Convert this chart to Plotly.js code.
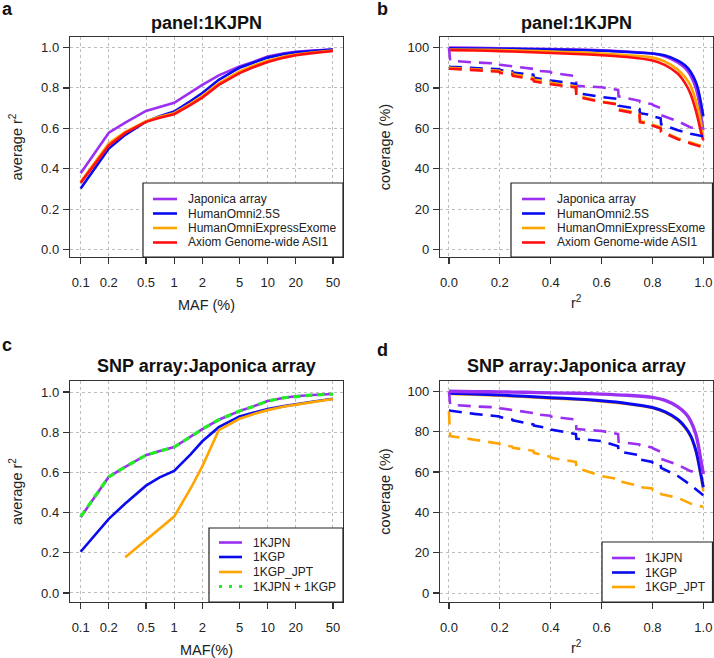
<!DOCTYPE html>
<html><head><meta charset="utf-8">
<script src="https://cdn.plot.ly/plotly-3.0.1.min.js"></script>
<style>html,body{margin:0;padding:0;background:#fff}#chart{width:714px;height:658px}</style>
</head><body><div id="chart"></div>
<script>
// ---------- DATA ----------
const mafTicks = [0.1, 0.2, 0.5, 1, 2, 5, 10, 20, 50];
const mafTickText = ['0.1', '0.2', '0.5', '1', '2', '5', '10', '20', '50'];
const maf = [0.1, 0.2, 0.3, 0.5, 0.7, 1, 1.5, 2, 3, 5, 7, 10, 15, 20, 30, 50];

const arrayNames = ['Japonica array', 'HumanOmni2.5S', 'HumanOmniExpressExome', 'Axiom Genome-wide ASI1'];
const japonicaR2 = [0.377, 0.578, 0.628, 0.686, 0.706, 0.726, 0.778, 0.815, 0.862, 0.906, 0.928, 0.955, 0.972, 0.979, 0.985, 0.99];
const omni25R2   = [0.302, 0.500, 0.568, 0.633, 0.660, 0.683, 0.735, 0.775, 0.840, 0.900, 0.925, 0.950, 0.968, 0.976, 0.983, 0.99];
const expressR2  = [0.335, 0.525, 0.583, 0.635, 0.657, 0.675, 0.722, 0.760, 0.823, 0.882, 0.910, 0.935, 0.955, 0.965, 0.975, 0.985];
const axiomR2    = [0.330, 0.515, 0.577, 0.632, 0.652, 0.670, 0.716, 0.752, 0.815, 0.873, 0.902, 0.928, 0.950, 0.962, 0.972, 0.983];

const panelNames = ['1KJPN', '1KGP', '1KGP_JPT', '1KJPN + 1KGP'];
const kjpnR2  = [0.377, 0.578, 0.628, 0.686, 0.706, 0.726, 0.778, 0.815, 0.862, 0.906, 0.928, 0.955, 0.972, 0.979, 0.985, 0.99];
const kgpR2   = [0.205, 0.369, 0.445, 0.534, 0.575, 0.608, 0.690, 0.755, 0.825, 0.878, 0.897, 0.915, 0.930, 0.940, 0.952, 0.967];
const jptR2   = [null, null, 0.178, 0.265, 0.324, 0.380, 0.520, 0.630, 0.810, 0.867, 0.890, 0.910, 0.928, 0.938, 0.950, 0.965];
const comboR2 = [0.380, 0.578, 0.628, 0.686, 0.706, 0.726, 0.778, 0.815, 0.862, 0.906, 0.928, 0.955, 0.972, 0.979, 0.985, 0.99];

// coverage vs r2 threshold
const r2Solid = [0, 0.1, 0.2, 0.3, 0.4, 0.5, 0.6, 0.7, 0.8, 0.85, 0.9, 0.93, 0.95, 0.97, 0.98, 0.99, 1.0];
const r2Dash  = [0, 0.005, 0.1, 0.199, 0.201, 0.249, 0.251, 0.332, 0.334, 0.399, 0.401, 0.499, 0.501, 0.6, 0.665, 0.667, 0.749, 0.751, 0.799, 0.801, 0.832, 0.834, 0.9, 0.95, 0.98, 1.0];

const japSolidB     = [100, 99.8, 99.6, 99.4, 99.2, 99, 98.6, 98, 97, 95.5, 92.5, 89.5, 86, 80, 75, 67.5, 59];
const omni25SolidB  = [99.6, 99.5, 99.4, 99.2, 99, 98.8, 98.4, 97.8, 97, 96, 93.5, 91, 88, 83, 79, 73, 66];
const expressSolidB = [99, 98.9, 98.7, 98.4, 98, 97.6, 97, 96.2, 95, 93, 89, 85, 81, 74, 69, 63, 55.7];
const axiomSolidB   = [98.7, 98.5, 98.2, 97.8, 97.3, 96.8, 96.2, 95.3, 93.6, 91.3, 87, 82, 77, 69, 64, 58.5, 54];

const japDashB     = [100, 93.5, 92.6, 92, 91.5, 90.8, 90.4, 89.4, 88.6, 88, 87.6, 85.8, 81, 80.3, 79, 75.8, 73.6, 73, 72, 71.5, 70, 66.5, 63.5, 60.4, 60, 60];
const omni25DashB  = [90.6, 90.5, 89.8, 89.2, 88.8, 88.2, 87.6, 86.5, 85, 84, 83.6, 82, 77.5, 75.5, 74.5, 71.2, 69.5, 67.5, 66.5, 66, 65, 62, 59, 57.3, 56.5, 56];
const expressDashB = [90.2, 90, 89.2, 88.5, 88, 87.4, 86.7, 85, 84, 83, 82.5, 80.8, 76.2, 73.2, 72, 69.5, 67.5, 63.5, 62.4, 61.8, 60.5, 58.8, 55, 53, 51.8, 51];
const axiomDashB   = [89.6, 89.5, 88.8, 88, 87.4, 86.8, 86, 84.2, 83.2, 82.2, 81.8, 80.2, 75.6, 73, 71.8, 69, 67, 63, 62, 61.3, 60, 58.3, 54.6, 52.5, 51.2, 50.5];

const kjpnSolidD = [100, 99.8, 99.7, 99.5, 99.2, 99, 98.6, 98, 97, 95.5, 92.3, 89, 85.3, 79, 73.5, 66, 59];
const kgpSolidD  = [99, 98.6, 98.1, 97.5, 96.8, 96.2, 95.3, 94, 92, 89.8, 86, 82, 78, 71, 65.5, 59, 52.4];
const jptSolidD  = [98.7, 98.3, 97.8, 97.2, 96.5, 95.9, 95, 93.7, 91.7, 89.5, 85.7, 81.6, 77.5, 70.5, 65, 58, 50.5];

const kjpnDashD = [100, 93.4, 92.5, 92, 91.6, 90.8, 90.4, 89.2, 88.6, 87.9, 87.5, 86, 81.3, 80.3, 78.8, 75, 73.6, 73.2, 72.2, 71.8, 70, 66.5, 63.5, 60.4, 60, 60];
const kgpDashD  = [90.5, 90.4, 88.8, 87.5, 87.2, 86, 85.6, 83.6, 83, 81.5, 81, 78.8, 76.5, 75.3, 72.8, 70.2, 68.3, 66.2, 65, 64.5, 63.8, 62, 58, 53.5, 50.5, 48.5];
const jptDashD  = [90, 77.8, 76, 74, 73.5, 72.6, 72, 70.5, 69.5, 67.5, 67, 65, 62, 58, 56.5, 55.5, 53, 52.5, 51.8, 51, 49.5, 49, 47.2, 44.3, 43.2, 42.8];

// ---------- STYLE ----------
const PURPLE = '#9B30F2', BLUE = '#0A0AF0', ORANGE = '#FFA500', RED = '#FF1010', GREEN = '#22EE22';
const FONT = 'Liberation Sans, Arial, Helvetica, sans-serif';
const W = 714, H = 658;
const DASH = '13px,8px';
const LW = 2.6;

function line(x, y, color, xa, ya, dash, width, shape) {
  return {x: x, y: y, type: 'scatter', mode: 'lines', xaxis: xa, yaxis: ya, showlegend: false,
    hoverinfo: 'skip', line: {color: color, width: width || LW, dash: dash || 'solid', shape: shape || 'linear', smoothing: 0.8}};
}

const traces = [
  // a
  line(maf, japonicaR2, PURPLE, 'x', 'y'),
  line(maf, omni25R2, BLUE, 'x', 'y'),
  line(maf, expressR2, ORANGE, 'x', 'y'),
  line(maf, axiomR2, RED, 'x', 'y'),
  // b
  line(r2Solid, japSolidB, PURPLE, 'x2', 'y2', 'solid', LW, 'spline'),
  line(r2Solid, omni25SolidB, BLUE, 'x2', 'y2', 'solid', LW, 'spline'),
  line(r2Solid, expressSolidB, ORANGE, 'x2', 'y2', 'solid', LW, 'spline'),
  line(r2Solid, axiomSolidB, RED, 'x2', 'y2', 'solid', LW, 'spline'),
  line(r2Dash, japDashB, PURPLE, 'x2', 'y2', DASH),
  line(r2Dash, omni25DashB, BLUE, 'x2', 'y2', DASH),
  line(r2Dash, expressDashB, ORANGE, 'x2', 'y2', DASH),
  line(r2Dash, axiomDashB, RED, 'x2', 'y2', DASH),
  // c
  line(maf, kjpnR2, PURPLE, 'x3', 'y3'),
  line(maf, kgpR2, BLUE, 'x3', 'y3'),
  line(maf, jptR2, ORANGE, 'x3', 'y3'),
  line(maf, comboR2, GREEN, 'x3', 'y3', '7px,5px', 3.2),
  // d
  line(r2Solid, jptSolidD, ORANGE, 'x4', 'y4', 'solid', LW, 'spline'),
  line(r2Solid, kgpSolidD, BLUE, 'x4', 'y4', 'solid', 3, 'spline'),
  line(r2Solid, kjpnSolidD, PURPLE, 'x4', 'y4', 'solid', 3.4, 'spline'),
  line(r2Dash, kjpnDashD, PURPLE, 'x4', 'y4', DASH),
  line(r2Dash, kgpDashD, BLUE, 'x4', 'y4', DASH),
  line(r2Dash, jptDashD, ORANGE, 'x4', 'y4', DASH)
];

// ---------- LAYOUT ----------
const fx = v => v / W;
const fy = v => 1 - v / H;

function axis(extra) {
  return Object.assign({
    showline: true, mirror: true, linecolor: '#333', linewidth: 1.2,
    ticks: 'outside', ticklen: 6, tickwidth: 1.2, tickcolor: '#333',
    showgrid: true, gridcolor: '#bdbdbd', griddash: 'dot', gridwidth: 1,
    zeroline: false, fixedrange: true, automargin: false,
    tickfont: {family: FONT, size: 13, color: '#222'}
  }, extra);
}
const titleFont = {family: FONT, size: 14.5, color: '#222'};

const boxes = {
  a: [70, 37, 343, 257], b: [440, 37, 712.5, 257],
  c: [70, 381, 343, 602], d: [440, 381, 712.5, 602]
};
const dom = (b) => ({x: [fx(b[0]), fx(b[2])], y: [fy(b[3]), fy(b[1])]});

const layout = {
  width: W, height: H, margin: {l: 0, r: 0, t: 0, b: 0},
  paper_bgcolor: '#fff', plot_bgcolor: '#fff', showlegend: false,
  font: {family: FONT, color: '#222'},
  xaxis: axis({domain: dom(boxes.a).x, anchor: 'y', type: 'log', range: [-1.114, 1.806],
    tickmode: 'array', tickvals: mafTicks, ticktext: mafTickText, ticklabelstandoff: 7,
    title: {text: 'MAF (%)', font: titleFont, standoff: 11}}),
  yaxis: axis({domain: dom(boxes.a).y, anchor: 'x', range: [-0.037, 1.052], dtick: 0.2, tickformat: '.1f',
    ticklabelstandoff: 1, title: {text: 'average r<sup>2</sup>', font: titleFont, standoff: 15}}),
  xaxis2: axis({domain: dom(boxes.b).x, anchor: 'y2', range: [-0.035, 1.036], dtick: 0.2, tickformat: '.1f',
    ticklabelstandoff: 7, title: {text: 'r<sup>2</sup>', font: titleFont, standoff: 9}}),
  yaxis2: axis({domain: dom(boxes.b).y, anchor: 'x2', range: [-3.7, 105.2], dtick: 20,
    ticklabelstandoff: 1, title: {text: 'coverage (%)', font: titleFont, standoff: 13}}),
  xaxis3: axis({domain: dom(boxes.c).x, anchor: 'y3', type: 'log', range: [-1.114, 1.806],
    tickmode: 'array', tickvals: mafTicks, ticktext: mafTickText, ticklabelstandoff: 7,
    title: {text: 'MAF(%)', font: titleFont, standoff: 11}}),
  yaxis3: axis({domain: dom(boxes.c).y, anchor: 'x3', range: [-0.045, 1.055], dtick: 0.2, tickformat: '.1f',
    ticklabelstandoff: 1, title: {text: 'average r<sup>2</sup>', font: titleFont, standoff: 15}}),
  xaxis4: axis({domain: dom(boxes.d).x, anchor: 'y4', range: [-0.035, 1.036], dtick: 0.2, tickformat: '.1f',
    ticklabelstandoff: 7, title: {text: 'r<sup>2</sup>', font: titleFont, standoff: 9}}),
  yaxis4: axis({domain: dom(boxes.d).y, anchor: 'x4', range: [-4.45, 105.1], dtick: 20,
    ticklabelstandoff: 1, title: {text: 'coverage (%)', font: titleFont, standoff: 13}}),
  shapes: [],
  annotations: []
};

// panel titles and letters
const headers = [
  {letter: 'a', lx: 7, ly: 9, title: 'panel:1KJPN', tx: 206.5, ty: 23},
  {letter: 'b', lx: 382, ly: 9, title: 'panel:1KJPN', tx: 576, ty: 23},
  {letter: 'c', lx: 7, ly: 345, title: 'SNP array:Japonica array', tx: 206.5, ty: 366},
  {letter: 'd', lx: 382, ly: 350, title: 'SNP array:Japonica array', tx: 576, ty: 366}
];
headers.forEach(h => {
  layout.annotations.push({xref: 'paper', yref: 'paper', x: fx(h.lx), y: fy(h.ly), xanchor: 'center', yanchor: 'middle',
    text: '<b>' + h.letter + '</b>', showarrow: false, font: {family: FONT, size: 18, color: '#111'}});
  layout.annotations.push({xref: 'paper', yref: 'paper', x: fx(h.tx), y: fy(h.ty), xanchor: 'center', yanchor: 'middle',
    text: '<b>' + h.title + '</b>', showarrow: false, font: {family: FONT, size: 18, color: '#111'}});
});

// legends (boxed, R-style)
const legends = [
  {box: [143, 183, 343, 257], rows: [199, 213.5, 228, 242.5], lx: [153, 177], tx: 186,
    names: arrayNames, colors: [PURPLE, BLUE, ORANGE, RED], dashes: ['solid', 'solid', 'solid', 'solid']},
  {box: [511, 183, 712.5, 257], rows: [199, 213.5, 228, 242.5], lx: [522, 545], tx: 555,
    names: arrayNames, colors: [PURPLE, BLUE, ORANGE, RED], dashes: ['solid', 'solid', 'solid', 'solid']},
  {box: [209, 528, 343, 602], rows: [542.5, 557, 572, 586.5], lx: [219, 242], tx: 251,
    names: panelNames, colors: [PURPLE, BLUE, ORANGE, GREEN], dashes: ['solid', 'solid', 'solid', '3px,7px']},
  {box: [602, 542, 712.5, 602], rows: [558, 572.5, 587], lx: [612, 635], tx: 643,
    names: panelNames.slice(0, 3), colors: [PURPLE, BLUE, ORANGE], dashes: ['solid', 'solid', 'solid']}
];
legends.forEach(L => {
  layout.shapes.push({type: 'rect', xref: 'paper', yref: 'paper', layer: 'above',
    x0: fx(L.box[0]), x1: fx(L.box[2]), y0: fy(L.box[3]), y1: fy(L.box[1]),
    line: {color: '#222', width: 1.2}, fillcolor: '#fff'});
  L.names.forEach((n, i) => {
    layout.shapes.push({type: 'line', xref: 'paper', yref: 'paper', layer: 'above',
      x0: fx(L.lx[0]), x1: fx(L.lx[1]), y0: fy(L.rows[i]), y1: fy(L.rows[i]),
      line: {color: L.colors[i], width: L.dashes[i] === 'solid' ? 2.6 : 3.2, dash: L.dashes[i]}});
    layout.annotations.push({xref: 'paper', yref: 'paper', x: fx(L.tx), y: fy(L.rows[i]), xanchor: 'left', yanchor: 'middle',
      text: n, showarrow: false, font: {family: FONT, size: 12, color: '#222'}});
  });
});

Plotly.newPlot('chart', traces, layout, {displayModeBar: false, staticPlot: true});
</script>
</body></html>
